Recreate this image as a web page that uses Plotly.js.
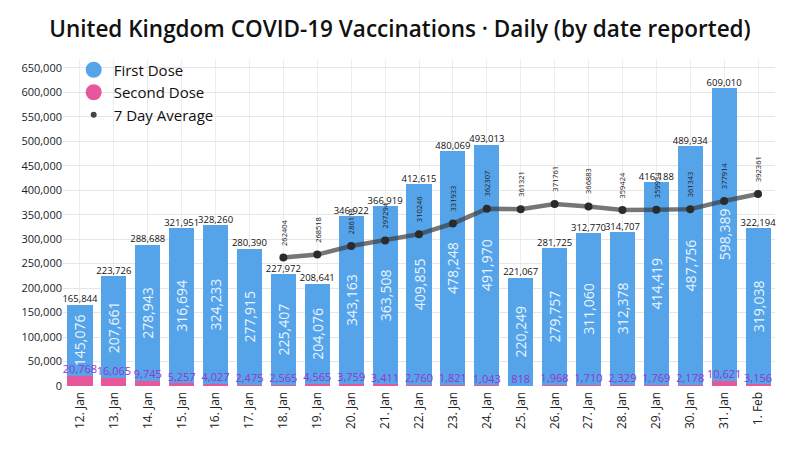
<!DOCTYPE html>
<html>
<head>
<meta charset="utf-8">
<script src="https://cdn.plot.ly/plotly-3.0.1.min.js"></script>
<style>html,body{margin:0;padding:0;background:#fff;}#chart{width:800px;height:450px;}</style>
</head>
<body>
<div id="chart"></div>
<script>
var dates = ["12. Jan","13. Jan","14. Jan","15. Jan","16. Jan","17. Jan","18. Jan","19. Jan","20. Jan","21. Jan","22. Jan","23. Jan","24. Jan","25. Jan","26. Jan","27. Jan","28. Jan","29. Jan","30. Jan","31. Jan","1. Feb"];
var firstDose = [145076,207661,278943,316694,324233,277915,225407,204076,343163,363508,409855,478248,491970,220249,279757,311060,312378,414419,487756,598389,319038];
var secondDose = [20768,16065,9745,5257,4027,2475,2565,4565,3759,3411,2760,1821,1043,818,1968,1710,2329,1769,2178,10621,3156];
var totals = [165844,223726,288688,321951,328260,280390,227972,208641,346922,366919,412615,480069,493013,221067,281725,312770,314707,416188,489934,609010,322194];
var sevenDayAvg = [null,null,null,null,null,null,262404,268518,286118,297294,310246,331933,362307,361321,371761,366883,359424,359934,361343,377914,392361];

var FONT = "Open Sans, Noto Sans, sans-serif";
var fmt = function(v){ return v.toLocaleString("en-US"); };

var traces = [
  {
    type: "bar", x: dates, y: secondDose, name: "Second Dose",
    marker: {color: "#e8579b"}, showlegend: false, hoverinfo: "skip"
  },
  {
    type: "bar", x: dates, y: firstDose, name: "First Dose",
    marker: {color: "#55a4ea"}, showlegend: false,
    text: firstDose.map(fmt), textposition: "inside", insidetextanchor: "middle",
    textangle: -90, constraintext: "none",
    textfont: {family: FONT, size: 14, color: "#e9f4ff"}, hoverinfo: "skip"
  },
  {
    type: "scatter", mode: "text", x: dates, y: secondDose,
    text: secondDose.map(fmt), textposition: "top center",
    textfont: {family: FONT, size: 11, color: "#9b32cc"}, showlegend: false, hoverinfo: "skip",
    cliponaxis: false
  },
  {
    type: "scatter", mode: "text", x: dates, y: totals,
    text: totals.map(fmt), textposition: "top center",
    textfont: {family: FONT, size: 9.5, color: "#111"}, showlegend: false, hoverinfo: "skip",
    cliponaxis: false
  },
  {
    type: "scatter", mode: "lines+markers", x: dates, y: sevenDayAvg, name: "7 Day Average",
    line: {color: "rgba(60,60,60,0.7)", width: 4.5},
    marker: {color: "#2b2b2b", size: 8}, showlegend: false, connectgaps: false
  },
  {type: "scatter", mode: "markers", x: [null], y: [null], name: "First Dose",
   marker: {color: "#55a4ea", size: 16}},
  {type: "scatter", mode: "markers", x: [null], y: [null], name: "Second Dose",
   marker: {color: "#e8579b", size: 16}},
  {type: "scatter", mode: "markers", x: [null], y: [null], name: "7 Day Average",
   marker: {color: "#444", size: 6}}
];

var annotations = [];
dates.forEach(function(d, i){
  if (sevenDayAvg[i] === null) return;
  annotations.push({
    x: d, y: sevenDayAvg[i], xref: "x", yref: "y",
    text: String(sevenDayAvg[i]), textangle: -90, showarrow: false,
    yanchor: "bottom", xanchor: "center", yshift: 10,
    font: {family: FONT, size: 7.5, color: "#222"}
  });
});

var layout = {
  width: 800, height: 450,
  margin: {l: 63, r: 25, t: 60, b: 64},
  paper_bgcolor: "#fff", plot_bgcolor: "#fff",
  barmode: "stack", bargap: 0.26,
  title: {text: "United Kingdom COVID-19 Vaccinations · Daily (by date reported)",
          x: 0.5, xanchor: "center", y: 0.935, yanchor: "middle",
          font: {family: FONT, size: 22.5, color: "#111", weight: 600}},
  xaxis: {type: "category", tickangle: -90, showgrid: true, gridcolor: "#ececec",
          tickfont: {family: FONT, size: 12, color: "#222"}, ticks: "", linecolor: "#fff",
          range: [-0.5, 20.5]},
  yaxis: {range: [0, 666000], dtick: 50000, tickformat: ",d", gridcolor: "#e6e6e6",
          zeroline: false, tickfont: {family: FONT, size: 11, color: "#222"}, ticks: ""},
  legend: {x: 0.015, y: 1.02, xanchor: "left", yanchor: "top", bgcolor: "rgba(255,255,255,0)",
           traceorder: "normal",
           font: {family: FONT, size: 15, color: "#111"}, tracegroupgap: 0, itemwidth: 30},
  annotations: annotations,
  showlegend: true
};

Plotly.newPlot("chart", traces, layout, {displayModeBar: false, staticPlot: true});
</script>
</body>
</html>
